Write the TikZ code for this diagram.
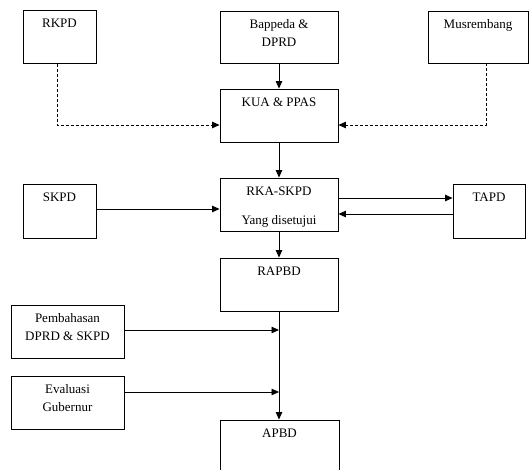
\documentclass[tikz,border=0pt]{standalone}
\usepackage{fontspec}
\setmainfont{Liberation Serif}
\usetikzlibrary{arrows.meta}
\tikzset{
  box/.style={draw, line width=0.9pt, minimum width=#1, inner sep=0pt},
  lbl/.style={anchor=north, inner sep=0pt, yshift=-9pt, align=center,
              font=\fontsize{13}{17.5}\selectfont},
  arr/.style={line width=0.8pt, -{Triangle[length=7.5pt,width=6.5pt]}},
  darr/.style={arr, dash pattern=on 3pt off 2pt},
}
\begin{document}
\begin{tikzpicture}[x=1pt,y=-1pt]
\useasboundingbox (0,0) rectangle (531,470);
\clip (0,0) rectangle (531,470);
% boxes
\node[box=73pt, minimum height=53pt, label={[lbl]north:RKPD}] (rkpd) at (59.5,37) {};
\node[box=118pt, minimum height=52pt, label={[lbl]north:Bappeda \&\\DPRD}] (bap) at (279,37) {};
\node[box=100pt, minimum height=52pt, label={[lbl]north:Musrembang}] (mus) at (478,37) {};
\node[box=118pt, minimum height=53pt, label={[lbl]north:KUA \& PPAS}] (kua) at (279,115.5) {};
\node[box=118pt, minimum height=53pt, label={[lbl]north:RKA-SKPD\\[11.5pt]Yang disetujui}] (rka) at (279,204.5) {};
\node[box=73pt, minimum height=54pt, label={[lbl]north:SKPD}] (skpd) at (59.5,211) {};
\node[box=72pt, minimum height=54pt, label={[lbl]north:TAPD}] (tapd) at (489,211) {};
\node[box=118pt, minimum height=53pt, label={[lbl]north:RAPBD}] (rapbd) at (279,284.5) {};
\node[box=113pt, minimum height=53pt, label={[lbl]north:Pembahasan\\DPRD \& SKPD}] (pemb) at (67.5,331.5) {};
\node[box=113pt, minimum height=53pt, label={[lbl]north:Evaluasi\\Gubernur}] (eval) at (67.5,402.5) {};
\node[box=119pt, minimum height=64pt, label={[lbl]north:APBD}] (apbd) at (279.5,452) {};
% connectors
\draw[darr] ([xshift=-2.5pt]rkpd.south) |- ([yshift=-9.5pt]kua.west);
\draw[darr] ([xshift=8pt]mus.south) |- ([yshift=-9.5pt]kua.east);
\draw[arr] (bap) -- (kua);
\draw[arr] (kua) -- (rka);
\draw[arr] ([yshift=2pt]skpd.east) -- ([yshift=2pt]skpd.east -| rka.west);
\draw[arr] ([yshift=6.5pt]rka.east) -- ([yshift=6.5pt]rka.east -| tapd.west);
\draw[arr] ([yshift=-9.5pt]rka.east -| tapd.west) -- ([yshift=-9.5pt]rka.east);
\draw[arr] (rka) -- (rapbd);
\draw[arr] (rapbd.south) -- (rapbd.south |- apbd.north);
\coordinate (j1) at ([yshift=1.5pt]pemb.east -| rapbd.south);
\coordinate (j2) at ([yshift=10.5pt]eval.east -| rapbd.south);
\draw[arr] ([yshift=1.5pt]pemb.east) -- (j1);
\draw[arr] ([yshift=10.5pt]eval.east) -- (j2);
\end{tikzpicture}
\end{document}
